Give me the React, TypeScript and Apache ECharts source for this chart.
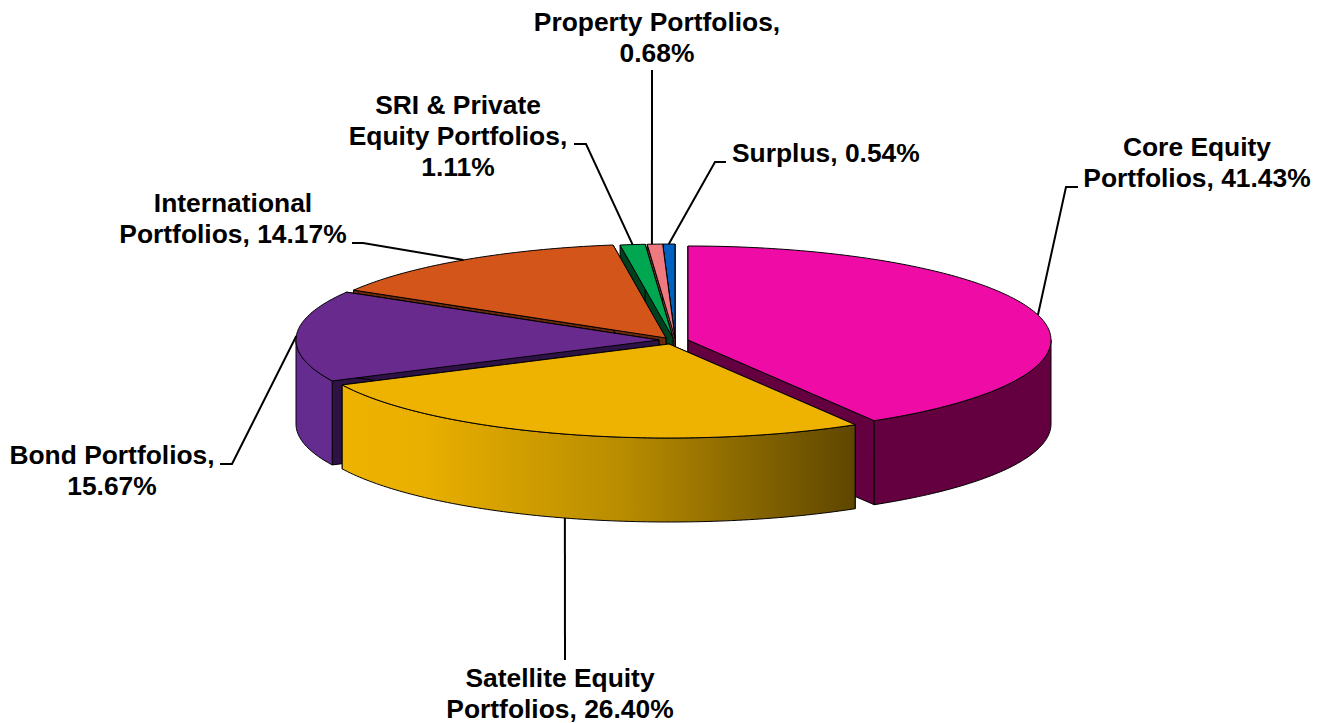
import React, { useEffect, useRef } from "react";
import * as echarts from "echarts";

const names = ["Core Equity Portfolios", "Satellite Equity Portfolios", "Bond Portfolios", "International Portfolios", "SRI & Private Equity Portfolios", "Property Portfolios", "Surplus"];
const shares = [41.43, 26.40, 15.67, 14.17, 1.11, 0.68, 0.54];
const labelLines = [
  ["Core Equity", "Portfolios, 41.43%"],
  ["Satellite Equity", "Portfolios, 26.40%"],
  ["Bond Portfolios,", "15.67%"],
  ["International", "Portfolios, 14.17%"],
  ["SRI & Private", "Equity Portfolios,", "1.11%"],
  ["Property Portfolios,", "0.68%"],
  ["Surplus, 0.54%"],
];

// layout
const drawOrder = [6, 5, 4, 0, 3, 2, 1];
const centreX = [688, 669, 659, 666, 673, 675, 675];
const centreY = [340, 344, 340, 338, 338, 338, 338];
const RX = 363;
const RY = 94;
const DEPTH = 84;
// styles
const topColors = ["#EF0BA6", "#EEB200", "#692A8E", "#D4551A", "#00A650", "#EE7A80", "#0060C0"];
const wallColors = ["#640040", "#EEB200", "#2F1245", "#6A2A0D", "#00401F", "#8A3A40", "#003070"];
const outerColors = ["#640040", "", "#652C90", "#6A2A0D", "#00401F", "#8A3A40", "#003070"];
// labels: anchor x, first line centre y, align
const labelX = [1197, 560, 112, 233, 458, 657, 732];
const labelY = [147, 678, 455, 203, 105, 22, 153];
const labelAlign = ["center", "center", "center", "center", "center", "center", "left"];
const anchorNudge = [0, 0, 0, 0, 0, -3, 0];
const leaderElbows = [
  [[1066, 187], [1078, 187]],
  [[565, 660]],
  [[232, 464], [220, 464]],
  [[363, 243], [352, 243]],
  [[586, 144], [574, 144]],
  [[652, 70]],
  [[715, 162], [726, 162]],
];

const total = shares.reduce((a, b) => a + b, 0);
const startAngles: number[] = [];
shares.reduce((acc, v, i) => {
  startAngles[i] = acc;
  return acc + (v / total) * Math.PI * 2;
}, 0);
const endAngle = (i: number) => startAngles[i] + (shares[i] / total) * Math.PI * 2;

const rim = (i: number, a: number, dy = 0) => [
  centreX[i] + RX * Math.sin(a),
  centreY[i] - RY * Math.cos(a) + dy,
];
const arcPts = (i: number, a0: number, a1: number, dy = 0) => {
  const n = Math.max(2, Math.ceil(Math.abs(a1 - a0) * 60));
  const pts: number[][] = [];
  for (let k = 0; k <= n; k++) pts.push(rim(i, a0 + ((a1 - a0) * k) / n, dy));
  return pts;
};

const edge = { stroke: "#000", lineWidth: 1, lineJoin: "round" as const };

const renderSlice = (_: any, api: any) => {
  const i = api.value(0);
  const a0 = startAngles[i];
  const a1 = endAngle(i);
  const cx = centreX[i];
  const cy = centreY[i];
  const children: any[] = [];
  const radialWall = (a: number) => {
    const p = rim(i, a);
    children.push({
      type: "polygon",
      shape: { points: [[cx, cy], p, [p[0], p[1] + DEPTH], [cx, cy + DEPTH]] },
      style: { fill: wallColors[i], ...edge },
    });
  };
  radialWall(a0);
  radialWall(a1);
  const f0 = Math.max(a0, Math.PI / 2);
  const f1 = Math.min(a1, (Math.PI * 3) / 2);
  if (f1 > f0) {
    const fill =
      i === 1
        ? new echarts.graphic.LinearGradient(0, 0, 1, 0, [
            { offset: 0, color: "#EEB200" },
            { offset: 0.15, color: "#EAB000" },
            { offset: 0.55, color: "#B88C00" },
            { offset: 1, color: "#5E4600" },
          ])
        : outerColors[i];
    children.push({
      type: "polygon",
      shape: { points: [...arcPts(i, f0, f1), ...arcPts(i, f1, f0, DEPTH)] },
      style: { fill, ...edge },
    });
  }
  children.push({
    type: "polygon",
    shape: { points: [[cx, cy], ...arcPts(i, a0, a1)] },
    style: { fill: topColors[i], ...edge },
  });
  return { type: "group", children };
};

const renderLabel = (_: any, api: any) => {
  const i = api.value(0);
  const mid = (startAngles[i] + endAngle(i)) / 2;
  const front = Math.cos(mid) < -0.5;
  const a = rim(i, mid, front ? DEPTH : 0);
  const pts = [[a[0] + anchorNudge[i], a[1]], ...leaderElbows[i]];
  return {
    type: "group",
    children: [
      {
        type: "polyline",
        shape: { points: pts },
        style: { fill: "none", stroke: "#000", lineWidth: 2 },
      },
      ...labelLines[i].map((t, k) => ({
        type: "text",
        style: {
          text: t,
          x: labelX[i],
          y: labelY[i] + k * 30.8,
          align: labelAlign[i],
          verticalAlign: "middle",
          fill: "#000",
          font: 'bold 26.4px "Liberation Sans", Arial, sans-serif',
        },
      })),
    ],
  };
};

export default function App() {
  const ref = useRef<HTMLDivElement>(null);
  useEffect(() => {
    document.body.style.margin = "0";
    const chart = echarts.init(ref.current!, null, { renderer: "svg" });
    chart.setOption({
      animation: false,
      backgroundColor: "#fff",
      series: [
        {
          type: "custom",
          name: "slices",
          coordinateSystem: "none",
          data: drawOrder.map((i) => ({ name: names[i], value: [i, shares[i]] })),
          renderItem: renderSlice,
          silent: true,
          z: 1,
        },
        {
          type: "custom",
          name: "labels",
          coordinateSystem: "none",
          data: names.map((n, i) => ({ name: n, value: [i, shares[i]] })),
          renderItem: renderLabel,
          silent: true,
          z: 2,
        },
      ],
    });
    return () => chart.dispose();
  }, []);
  return <div ref={ref} style={{ position: "absolute", left: 0, top: 0, width: 1327, height: 723 }} />;
}
